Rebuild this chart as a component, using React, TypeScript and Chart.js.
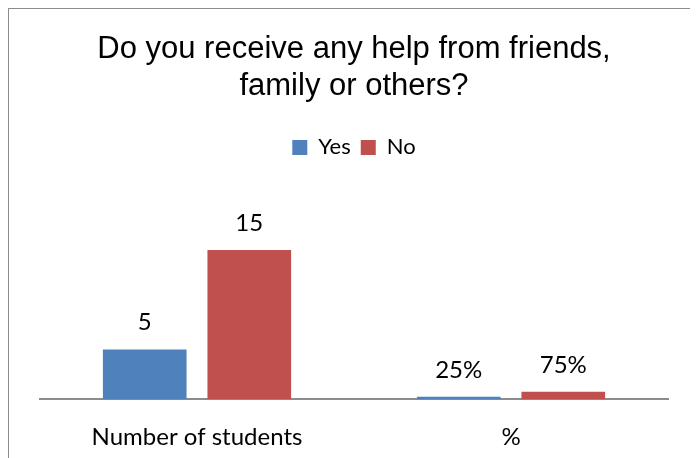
import React, { useEffect, useRef } from "react";
import { Chart, registerables } from "chart.js";

Chart.register(...registerables);

const categories = ["Number of students", "%"];
const yesValues = [5, 0.25];
const noValues = [15, 0.75];
const yesLabels = ["5", "25%"];
const noLabels = ["15", "75%"];
const titleLines = ["Do you receive any help from friends,", "family or others?"];

const bodyFont = "Lato, 'Open Sans', sans-serif";

const labelPlugin = {
  id: "barLabels",
  afterDatasetsDraw(chart: any) {
    const ctx = chart.ctx;
    ctx.save();
    ctx.font = "24px " + bodyFont;
    ctx.fillStyle = "#000";
    ctx.textAlign = "center";
    ctx.textBaseline = "alphabetic";
    chart.data.datasets.forEach((ds: any, i: number) => {
      const meta = chart.getDatasetMeta(i);
      meta.data.forEach((bar: any, j: number) => {
        ctx.fillText(ds.labelsText[j], bar.x, bar.y - 19);
      });
    });
    ctx.restore();
  },
};

export default function App() {
  const ref = useRef<HTMLCanvasElement>(null);
  useEffect(() => {
    if (!ref.current) return;
    const chart = new Chart(ref.current, {
      type: "bar",
      data: {
        labels: categories,
        datasets: [
          { label: "Yes", data: yesValues, backgroundColor: "#4F81BD", labelsText: yesLabels } as any,
          { label: "No", data: noValues, backgroundColor: "#C0504D", labelsText: noLabels } as any,
        ],
      },
      options: {
        animation: false,
        responsive: false,
        maintainAspectRatio: false,
        layout: { padding: { left: 31, right: 29, top: 0, bottom: 1 } },
        datasets: { bar: { categoryPercentage: 0.666, barPercentage: 0.8 } },
        scales: {
          x: {
            grid: { display: false, drawTicks: false },
            border: { display: true, color: "#8c8c8c", width: 2 },
            ticks: { color: "#000", padding: 24, font: { family: bodyFont, size: 24 } },
          },
          y: { display: false, min: 0, max: 23.2 },
        },
        plugins: {
          title: {
            display: true,
            text: titleLines,
            color: "#000",
            font: { family: "'Liberation Sans', Arial, sans-serif", size: 31, weight: "normal", lineHeight: 1.2 },
            padding: { top: 22, bottom: 21 },
          },
          legend: {
            display: true,
            labels: {
              color: "#000",
              boxWidth: 15,
              boxHeight: 15,
              padding: 10,
              font: { family: bodyFont, size: 22 },
            },
          },
          tooltip: { enabled: false },
        },
      },
      plugins: [labelPlugin],
    });
    return () => chart.destroy();
  }, []);
  return (
    <div style={{ width: 688, height: 468, border: "1px solid #8c8c8c" }}>
      <canvas ref={ref} width={688} height={468} style={{ display: "block" }} />
    </div>
  );
}
